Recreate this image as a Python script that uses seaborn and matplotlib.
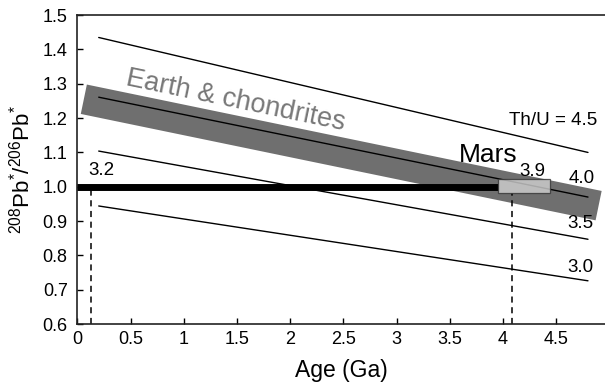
import matplotlib
matplotlib.use("Agg")
import matplotlib.pyplot as plt
from matplotlib.patches import Rectangle
import seaborn as sns
import pandas as pd

# Th/U reference evolution lines: end points (age in Ga, 208Pb*/206Pb*)
th_u_labels = ["4.5", "4.0", "3.5", "3.0"]
line_ages = [0.2, 4.8]
line_ratios = {
    "4.5": [1.435, 1.100],
    "4.0": [1.261, 0.970],
    "3.5": [1.104, 0.847],
    "3.0": [0.944, 0.726],
}

# Earth & chondrites band (centre line)
band_ages = [0.06, 4.90]
band_ratios = [1.255, 0.945]

# Mars: measured ratio and model-age box
mars_ratio = 1.0
mars_line_ages = [0.0, 3.95]
mars_box_ages = [3.95, 4.44]
mars_box_ratios = [0.981, 1.022]
model_ages = [0.127, 4.09]       # dashed drop lines
model_age_labels = ["3.2", "3.9"]

x_ticks = [0, 0.5, 1, 1.5, 2, 2.5, 3, 3.5, 4, 4.5]
x_tick_labels = ["0", "0.5", "1", "1.5", "2", "2.5", "3", "3.5", "4", "4.5"]
y_ticks = [0.6, 0.7, 0.8, 0.9, 1.0, 1.1, 1.2, 1.3, 1.4, 1.5]
y_tick_labels = ["0.6", "0.7", "0.8", "0.9", "1.0", "1.1", "1.2", "1.3", "1.4", "1.5"]

sns.set_theme(style="ticks")
plt.rcParams["font.family"] = ["Liberation Sans", "DejaVu Sans"]
plt.rcParams["mathtext.fontset"] = "custom"
plt.rcParams["mathtext.rm"] = "Liberation Sans"
plt.rcParams["text.color"] = "black"
plt.rcParams["axes.labelcolor"] = "black"

fig = plt.figure(figsize=(6.05, 3.89), dpi=100)
ax = fig.add_axes([0.128, 0.167, 0.872, 0.794])

# grey band
band_df = pd.DataFrame({"age": band_ages, "ratio": band_ratios})
sns.lineplot(data=band_df, x="age", y="ratio", ax=ax, color="#6f6f6f",
             linewidth=21.6, solid_capstyle="butt", zorder=1)

# Th/U lines
for lab in th_u_labels:
    df = pd.DataFrame({"age": line_ages, "ratio": line_ratios[lab]})
    sns.lineplot(data=df, x="age", y="ratio", ax=ax, color="black",
                 linewidth=1.0, zorder=2)

# thick Mars ratio line
mars_df = pd.DataFrame({"age": mars_line_ages, "ratio": [mars_ratio, mars_ratio]})
sns.lineplot(data=mars_df, x="age", y="ratio", ax=ax, color="black",
             linewidth=5.0, solid_capstyle="butt", zorder=3)

# dashed model-age drop lines
ax.plot([model_ages[0], model_ages[0]], [0.6, mars_ratio], color="black",
        linestyle=(0, (4, 3)), linewidth=1.1, zorder=2)
ax.plot([model_ages[1], model_ages[1]], [0.6, mars_box_ratios[0]], color="black",
        linestyle=(0, (4, 3)), linewidth=1.1, zorder=2)

# Mars box
ax.add_patch(Rectangle((mars_box_ages[0], mars_box_ratios[0]),
                       mars_box_ages[1] - mars_box_ages[0],
                       mars_box_ratios[1] - mars_box_ratios[0],
                       facecolor="#d2d2d2", alpha=0.8, edgecolor="#333333",
                       linewidth=0.9, zorder=4))

# annotations
ax.text(0.447, 1.296, "Earth & chondrites", rotation=-11.7, rotation_mode="anchor",
        ha="left", va="baseline", fontsize=19.5, color="#777777")
ax.text(3.86, 1.072, "Mars", ha="center", va="baseline", fontsize=19, color="black")
ax.text(0.099, 1.034, model_age_labels[0], ha="left", va="baseline", fontsize=13.5)
ax.text(4.154, 1.031, model_age_labels[1], ha="left", va="baseline", fontsize=13.5)
ax.text(4.06, 1.180, "Th/U = " + th_u_labels[0], ha="left", va="baseline", fontsize=13.5)
ax.text(4.614, 1.012, th_u_labels[1], ha="left", va="baseline", fontsize=13.5)
ax.text(4.605, 0.880, th_u_labels[2], ha="left", va="baseline", fontsize=13.5)
ax.text(4.605, 0.752, th_u_labels[3], ha="left", va="baseline", fontsize=13.5)

ax.set_xlim(0, 4.96)
ax.set_ylim(0.6, 1.5)
ax.set_xticks(x_ticks)
ax.set_xticklabels(x_tick_labels)
ax.set_yticks(y_ticks)
ax.set_yticklabels(y_tick_labels)
ax.tick_params(direction="in", length=4, width=1.0, labelsize=13, colors="black")
ax.tick_params(axis="y", pad=7)
ax.tick_params(axis="x", pad=5)

ax.set_xlabel("Age (Ga)", fontsize=16.5, labelpad=8)
ax.set_ylabel(r"$^{208}$Pb$^{*}$/$^{206}$Pb$^{*}$", fontsize=16, labelpad=6)

for side in ["left", "bottom", "top"]:
    ax.spines[side].set_linewidth(1.2)
    ax.spines[side].set_color("#222222")
ax.spines["right"].set_visible(False)
ax.set_facecolor("white")
fig.patch.set_facecolor("white")

fig.savefig("out.png", dpi=100)
